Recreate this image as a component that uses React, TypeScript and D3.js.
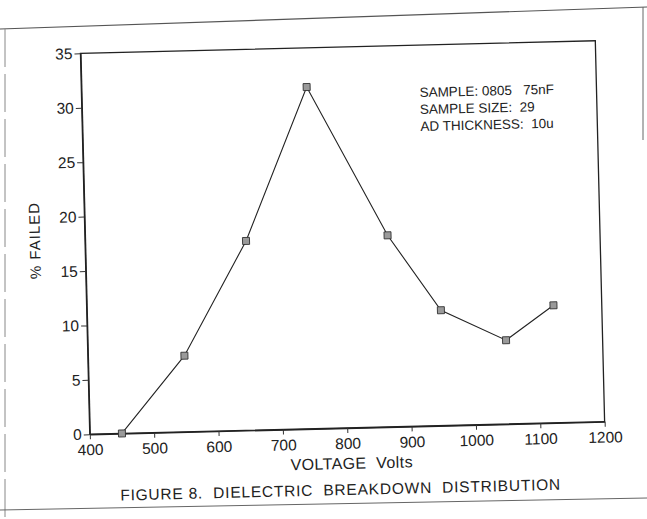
import { useEffect, useRef } from "react"
import * as d3 from "d3"

const voltage = [450, 550, 650, 750, 870, 950, 1050, 1125]
const pctFailed = [0, 7.0, 17.4, 31.4, 17.6, 10.6, 7.7, 10.8]
const xTicks = [400, 500, 600, 700, 800, 900, 1000, 1100, 1200]
const yTicks = [0, 5, 10, 15, 20, 25, 30, 35]
const notes = ["SAMPLE: 0805   75nF", "SAMPLE SIZE:  29", "AD THICKNESS:  10u"]

const W = 647
const H = 519
const FONT = "'Liberation Sans', Arial, Helvetica, sans-serif"

// svg collapses runs of spaces, keep them
const keepSpaces = (s: string) => s.replace(/ {2,}/g, m => "\u00a0".repeat(m.length))

export default function App() {
    const ref = useRef<SVGSVGElement | null>(null)

    useEffect(() => {
        const svg = d3.select(ref.current)
        svg.selectAll("*").remove()

        const margin = { top: 47, right: 47, bottom: 91, left: 85 }
        const innerW = W - margin.left - margin.right
        const innerH = H - margin.top - margin.bottom

        svg.append("rect").attr("width", W).attr("height", H).attr("fill", "#fff")

        // outer frame of the page
        svg.append("line")
            .attr("x1", 0).attr("y1", 29).attr("x2", W).attr("y2", 7)
            .attr("stroke", "#555").attr("stroke-width", 1.2)
        svg.append("line")
            .attr("x1", 5).attr("y1", 29).attr("x2", 5).attr("y2", 519)
            .attr("stroke", "#888").attr("stroke-width", 1)
            .attr("stroke-dasharray", "38,7")
        svg.append("line")
            .attr("x1", 643).attr("y1", 7).attr("x2", 643).attr("y2", 140)
            .attr("stroke", "#666").attr("stroke-width", 1)
        svg.append("line")
            .attr("x1", 0).attr("y1", 510).attr("x2", W).attr("y2", 498)
            .attr("stroke", "#666").attr("stroke-width", 1)

        // the scan is slightly tilted
        const root = svg.append("g")
            .attr("transform", "rotate(-1.4, 343, 236)")
            .style("font-family", FONT)

        const g = root.append("g")
            .attr("transform", `translate(${margin.left},${margin.top})`)

        const x = d3.scaleLinear().domain([400, 1200]).range([0, innerW])
        const y = d3.scaleLinear().domain([0, 35]).range([innerH, 0])

        g.append("rect")
            .attr("width", innerW)
            .attr("height", innerH)
            .attr("fill", "none")
            .attr("stroke", "#222")
            .attr("stroke-width", 1.3)

        const xAxis = g.append("g")
            .attr("transform", `translate(0,${innerH})`)
            .call(d3.axisBottom(x).tickValues(xTicks).tickFormat(d3.format("d"))
                .tickSize(5).tickPadding(5).tickSizeOuter(0))
        const yAxis = g.append("g")
            .call(d3.axisLeft(y).tickValues(yTicks).tickFormat(d3.format("d"))
                .tickSize(6).tickPadding(2).tickSizeOuter(0))

        for (const ax of [xAxis, yAxis]) {
            ax.select(".domain").attr("stroke", "#222").attr("stroke-width", 1.3)
            ax.selectAll(".tick line").attr("stroke", "#333")
            ax.selectAll(".tick text")
                .attr("fill", "#222")
                .style("font-family", FONT)
                .style("font-size", "15.5px")
        }

        const line = d3.line<number>()
            .x((_, i) => x(voltage[i]))
            .y(d => y(d))

        g.append("path")
            .datum(pctFailed)
            .attr("d", line)
            .attr("fill", "none")
            .attr("stroke", "#222")
            .attr("stroke-width", 1.1)

        g.selectAll("rect.pt")
            .data(pctFailed)
            .join("rect")
            .attr("class", "pt")
            .attr("x", (_, i) => x(voltage[i]) - 3.5)
            .attr("y", d => y(d) - 3.5)
            .attr("width", 7)
            .attr("height", 7)
            .attr("fill", "#9a9a9a")
            .attr("stroke", "#333")
            .attr("stroke-width", 0.9)

        g.selectAll("text.note")
            .data(notes)
            .join("text")
            .attr("class", "note")
            .attr("x", 338)
            .attr("y", (_, i) => 52 + i * 17)
            .attr("fill", "#222")
            .style("font-size", "13.5px")
            .text(d => keepSpaces(d))

        root.append("text")
            .attr("x", 40)
            .attr("y", 233)
            .attr("transform", "rotate(-90, 40, 233)")
            .attr("text-anchor", "middle")
            .attr("fill", "#222")
            .style("font-size", "15px")
            .style("letter-spacing", "1px")
            .text("% FAILED")

        root.append("text")
            .attr("x", 346)
            .attr("y", 469)
            .attr("text-anchor", "middle")
            .attr("fill", "#222")
            .attr("textLength", 122)
            .attr("lengthAdjust", "spacing")
            .style("font-size", "16px")
            .text(keepSpaces("VOLTAGE  Volts"))

        root.append("text")
            .attr("x", 334)
            .attr("y", 495)
            .attr("text-anchor", "middle")
            .attr("fill", "#222")
            .attr("textLength", 440)
            .attr("lengthAdjust", "spacing")
            .style("font-size", "15.5px")
            .text(keepSpaces("FIGURE 8.  DIELECTRIC  BREAKDOWN  DISTRIBUTION"))
    }, [])

    return (
        <svg
            ref={ref}
            width={W}
            height={H}
            style={{ position: "absolute", left: 0, top: 0, display: "block" }}
        />
    )
}
